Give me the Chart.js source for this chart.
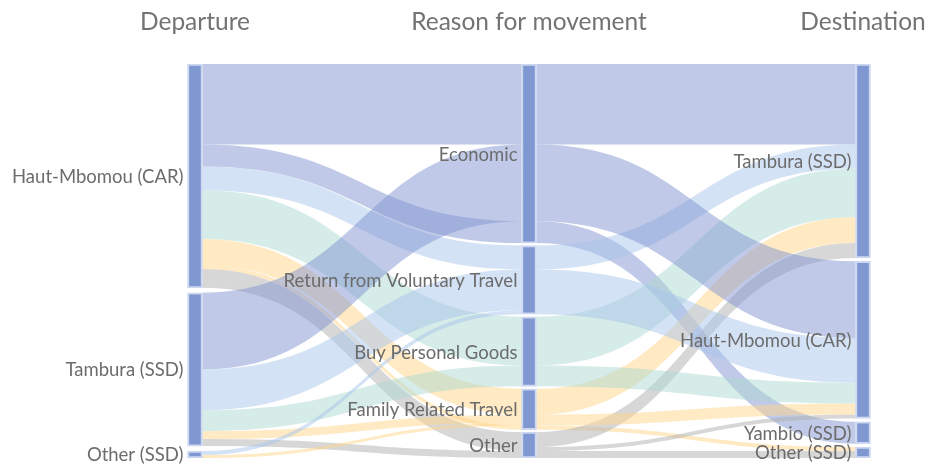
<!DOCTYPE html>
<html>
<head>
<meta charset="utf-8">
<script src="https://cdn.jsdelivr.net/npm/chart.js@4.4.1/dist/chart.umd.min.js"></script>
<style>
  body { margin: 0; background: #fff; }
  #wrap { width: 927px; height: 464px; }
</style>
</head>
<body>
<div id="wrap"><canvas id="sankey"></canvas></div>
<script>
// column titles and node names
const columnTitles = ['Departure', 'Reason for movement', 'Destination'];
const departures = ['Haut-Mbomou (CAR)', 'Tambura (SSD)', 'Other (SSD)'];
const reasons = ['Economic', 'Return from Voluntary Travel', 'Buy Personal Goods', 'Family Related Travel', 'Other'];
const destinations = ['Tambura (SSD)', 'Haut-Mbomou (CAR)', 'Yambio (SSD)', 'Other (SSD)'];

// one entry per movement path: departure -> reason -> destination
const pathFrom   = [0,  0,  0,  0,  0,  0,  0,  0,   1,  1,  1,  1,  1,   2,  2];
const pathReason = [0,  0,  1,  2,  3,  3,  4,  4,   0,  1,  2,  3,  4,   1,  3];
const pathTo     = [0,  2,  0,  0,  0,  3,  0,  1,   1,  1,  1,  1,  3,   1,  1];
const pathValue  = [81, 22, 24, 49, 26, 4,  15, 4,   77, 41, 21, 8,  7,   4,  3];

const reasonColors = [
  'rgba(130,150,210,0.5)',
  'rgba(170,198,235,0.5)',
  'rgba(173,217,209,0.5)',
  'rgba(255,213,137,0.5)',
  'rgba(175,175,175,0.5)'
];
const FONT = 'Lato, "Open Sans", sans-serif';
const TEXT = '#6c6c6c';
const NODE_W = 15;
const PAD = 2.5;

const columns = [departures, reasons, destinations];
const keys = [pathFrom, pathReason, pathTo];
const total = pathValue.reduce((a, b) => a + b, 0);
const yMax = total + 4 * PAD;

// node extents in value units, each column spread over the full height
const nodes = columns.map((names, c) => {
  const gap = (yMax - total) / (names.length - 1);
  let y = 0;
  return names.map((name, i) => {
    const v = pathValue.reduce((s, val, p) => s + (keys[c][p] === i ? val : 0), 0);
    const n = { name, col: c, y0: y, y1: y + v };
    y += v + gap;
    return n;
  });
});

// stack paths inside a node in a given order
function stack(col, idx, sortFn) {
  const ids = pathValue.map((_, p) => p).filter(p => keys[col][p] === idx).sort(sortFn);
  const out = {};
  let y = nodes[col][idx].y0;
  ids.forEach(p => { out[p] = y; y += pathValue[p]; });
  return out;
}
const srcDep = {}, midPos = {}, dstPos = {};
departures.forEach((_, i) => Object.assign(srcDep, stack(0, i,
  (a, b) => pathReason[a] - pathReason[b] || pathTo[a] - pathTo[b])));
reasons.forEach((_, i) => Object.assign(midPos, stack(1, i,
  (a, b) => pathTo[a] - pathTo[b] || pathFrom[a] - pathFrom[b])));
destinations.forEach((_, i) => Object.assign(dstPos, stack(2, i,
  (a, b) => pathReason[a] - pathReason[b] || pathFrom[a] - pathFrom[b])));

const nodeBars = nodes.flat().map(n => ({ x: n.col, y: [n.y0, n.y1] }));

function band(ctx, x, y, c0, a0, c1, a1, v, color) {
  const xa = x.getPixelForValue(c0) + NODE_W / 2;
  const xb = x.getPixelForValue(c1) - NODE_W / 2;
  const xm = (xa + xb) / 2;
  const ya0 = y.getPixelForValue(a0), ya1 = y.getPixelForValue(a0 + v);
  const yb0 = y.getPixelForValue(a1), yb1 = y.getPixelForValue(a1 + v);
  ctx.beginPath();
  ctx.moveTo(xa, ya0);
  ctx.bezierCurveTo(xm, ya0, xm, yb0, xb, yb0);
  ctx.lineTo(xb, yb1);
  ctx.bezierCurveTo(xm, yb1, xm, ya1, xa, ya1);
  ctx.closePath();
  ctx.fillStyle = color;
  ctx.fill();
}

const linkPlugin = {
  id: 'links',
  beforeDatasetsDraw(chart) {
    const { ctx, scales: { x, y } } = chart;
    ctx.save();
    pathValue.forEach((v, p) => {
      const col = reasonColors[pathReason[p]];
      band(ctx, x, y, 0, srcDep[p], 1, midPos[p], v, col);
      band(ctx, x, y, 1, midPos[p], 2, dstPos[p], v, col);
    });
    ctx.restore();
  }
};

const labelPlugin = {
  id: 'nodeLabels',
  afterDatasetsDraw(chart) {
    const { ctx, scales: { x, y } } = chart;
    ctx.save();
    ctx.font = '18.5px ' + FONT;
    ctx.fillStyle = TEXT;
    ctx.textAlign = 'right';
    ctx.textBaseline = 'middle';
    nodes.flat().forEach(n => {
      const px = x.getPixelForValue(n.col) - NODE_W / 2 - 4;
      const py = y.getPixelForValue((n.y0 + n.y1) / 2) + 1;
      ctx.fillText(n.name, px, py);
    });
    ctx.restore();
  }
};

new Chart(document.getElementById('sankey'), {
  type: 'bar',
  data: {
    datasets: [{
      data: nodeBars,
      backgroundColor: '#7f98d1',
      borderColor: '#cdd7f0',
      borderWidth: 2,
      borderSkipped: false,
      barThickness: NODE_W,
      grouped: false
    }]
  },
  options: {
    responsive: true,
    maintainAspectRatio: false,
    animation: false,
    layout: { padding: { top: 0, bottom: 6, left: 0, right: 0 } },
    plugins: { legend: { display: false }, tooltip: { enabled: false } },
    scales: {
      x: {
        type: 'linear',
        position: 'top',
        offset: false,
        min: -0.5838,
        max: 2.1916,
        grid: { display: false },
        border: { display: false },
        afterBuildTicks: s => { s.ticks = columnTitles.map((t, i) => ({ value: i })); },
        afterFit: s => { s.height = 64; s.paddingLeft = 0; s.paddingRight = 0; },
        ticks: {
          autoSkip: false,
          maxRotation: 0,
          padding: 19,
          color: '#737373',
          font: { family: FONT, size: 24.5 },
          callback: v => columnTitles[v]
        }
      },
      y: { type: 'linear', reverse: true, min: 0, max: yMax, display: false }
    }
  },
  plugins: [linkPlugin, labelPlugin]
});
</script>
</body>
</html>
